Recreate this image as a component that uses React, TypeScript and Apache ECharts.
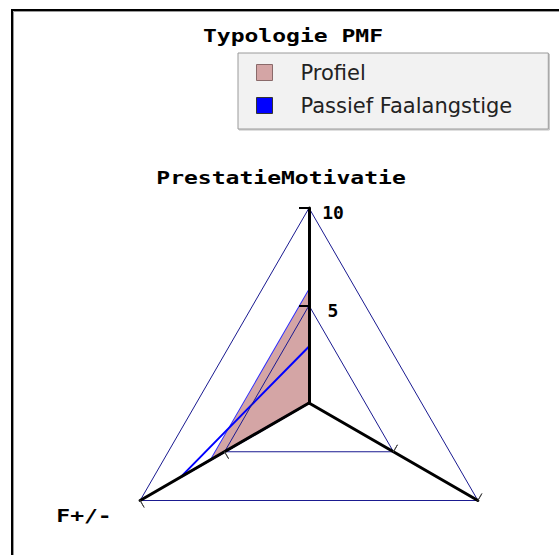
import React, { useEffect, useRef } from "react";
import * as echarts from "echarts";

const titleText = "Typologie PMF";
const indicatorNames = ["PrestatieMotivatie", "F+/-", ""];
const indicatorMax = [10, 10, 10];
const seriesNames = ["Profiel", "Passief Faalangstige"];
const profielValues = [5.8, 5.8, 0];
const passiefValues = [2.9, 7.6, 0];
const tickValues = [5, 10];

const MONO = "'DejaVu Sans Mono', monospace";
const SANS = "'DejaVu Sans', sans-serif";

// layout positions for the indicator name texts (top, bottom-left)
const namePos = [
  [281, 178],
  [84, 516],
  [600, 600],
];

export default function App() {
  const ref = useRef<HTMLDivElement>(null);
  useEffect(() => {
    if (!ref.current) return;
    const chart = echarts.init(ref.current, null, { renderer: "svg" });

    const makeIndicators = (inside: boolean, withLabels: boolean) =>
      indicatorNames.map((name, i) => ({
        name,
        min: 0,
        max: indicatorMax[i],
        axisTick:
          i === 0
            ? {
                show: true,
                inside,
                length: 10,
                customValues: tickValues,
                lineStyle: { color: "#000", width: 2 },
              }
            : {
                show: true,
                inside,
                length: 8,
                customValues: tickValues,
                lineStyle: { color: "#444", width: 1 },
              },
        axisLabel:
          i === 0 && withLabels
            ? {
                show: true,
                customValues: tickValues,
                margin: -24,
                align: "center",
                verticalAlign: "middle",
                formatter: (v: number) => `{a|${v}}`,
                rich: {
                  a: {
                    fontFamily: MONO,
                    fontWeight: "bold",
                    fontSize: 18,
                    color: "#000",
                    padding: [9, 0, 0, 0],
                  },
                },
                fontFamily: MONO,
                fontWeight: "bold",
                fontSize: 18,
                color: "#000",
              }
            : { show: false },
      }));

    const option: any = {
      animation: false,
      backgroundColor: "#fff",
      graphic: [
        {
          type: "rect",
          shape: { x: 12, y: 10, width: 700, height: 700 },
          style: { fill: "none", stroke: "#000", lineWidth: 2 },
          silent: true,
        },
        {
          type: "polyline",
          shape: { points: [[13.5, 700], [13.5, 11.5], [700, 11.5]] },
          style: { fill: "none", stroke: "#9a9a9a", lineWidth: 1 },
          silent: true,
        },
        {
          type: "text",
          x: 293,
          y: 36,
          scaleX: 1.28,
          style: {
            text: titleText,
            textAlign: "center",
            textVerticalAlign: "middle",
            font: `bold 18px ${MONO}`,
            fill: "#000",
          },
        },
        ...indicatorNames
          .map((name, i) => ({ name, i }))
          .filter((d) => d.name)
          .map((d) => ({
            type: "text",
            x: namePos[d.i][0],
            y: namePos[d.i][1],
            scaleX: 1.28,
            style: {
              text: d.name,
              textAlign: "center",
              textVerticalAlign: "middle",
              font: `bold 18px ${MONO}`,
              fill: "#000",
            },
          })),
      ],
      legend: {
        orient: "vertical",
        left: 238,
        top: 53,
        padding: [9, 36, 13, 18],
        itemGap: 12,
        itemWidth: 16,
        itemHeight: 16,
        icon: "rect",
        backgroundColor: "#f2f2f2",
        borderColor: "#9a9a9a",
        borderWidth: 1,
        shadowColor: "rgba(0,0,0,0.25)",
        shadowOffsetX: 1,
        shadowOffsetY: 1,
        textStyle: {
          fontFamily: SANS,
          fontSize: 21,
          color: "#222",
          lineHeight: 16,
          padding: [0, 0, 0, 23],
        },
        data: [
          {
            name: seriesNames[0],
            itemStyle: { color: "#d4a5a5", borderColor: "#8a6a6a", borderWidth: 1 },
          },
          {
            name: seriesNames[1],
            itemStyle: { color: "#0000ff", borderColor: "#333", borderWidth: 1 },
          },
        ],
      },
      radar: [
        {
          center: [309, 403],
          radius: 195,
          startAngle: 90,
          splitNumber: 2,
          shape: "polygon",
          z: 5,
          axisName: { show: false },
          indicator: makeIndicators(false, true),
          axisLine: { show: true, lineStyle: { color: "#000", width: 3 } },
          splitLine: { show: true, lineStyle: { color: "#1a1a90", width: 1 } },
          splitArea: { show: false },
        },
        {
          center: [309, 403],
          radius: 195,
          startAngle: 90,
          splitNumber: 2,
          shape: "polygon",
          z: 5,
          axisName: { show: false },
          indicator: makeIndicators(true, false),
          axisLine: { show: false },
          splitLine: { show: false },
          splitArea: { show: false },
        },
      ],
      series: [
        {
          type: "radar",
          radarIndex: 0,
          z: 2,
          symbol: "none",
          data: [
            {
              name: seriesNames[0],
              value: profielValues,
              itemStyle: { color: "#d4a5a5" },
              lineStyle: { color: "#2a2aff", width: 1.8 },
              areaStyle: { color: "#d4a5a5", opacity: 1 },
            },
            {
              name: seriesNames[1],
              value: passiefValues,
              itemStyle: { color: "#0000ff" },
              lineStyle: { color: "#0000ff", width: 2 },
            },
          ],
        },
      ],
    };
    chart.setOption(option);
    return () => chart.dispose();
  }, []);
  return (
    <div
      ref={ref}
      style={{ position: "absolute", left: 0, top: 0, width: 559, height: 555 }}
    />
  );
}
